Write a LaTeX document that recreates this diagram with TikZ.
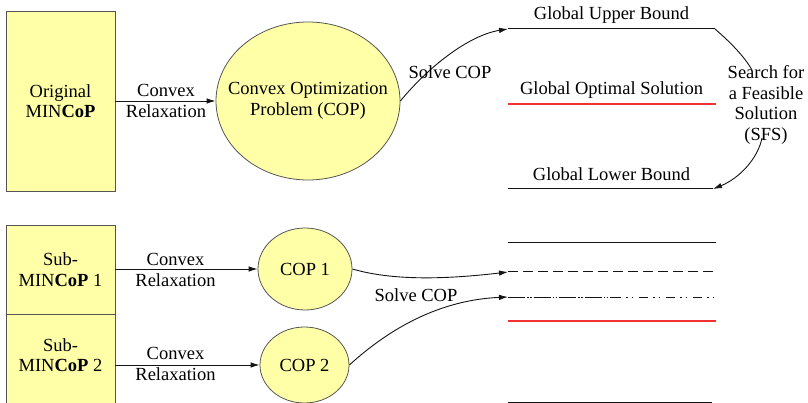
\documentclass[tikz,border=0pt]{standalone}
\usepackage{fontspec}
\setmainfont{Liberation Serif}
\usetikzlibrary{shapes.geometric,arrows.meta}
\definecolor{boxfill}{RGB}{255,255,168}
\definecolor{edge}{RGB}{85,85,85}
\definecolor{ink}{RGB}{20,20,20}
\definecolor{optred}{RGB}{240,50,50}
\begin{document}
\begin{tikzpicture}[x=1pt,y=-1pt,
  every node/.style={font=\fontsize{18.5}{20.5}\selectfont, inner sep=0pt, align=center, text=black},
  probbox/.style={draw=edge, fill=boxfill, line width=0.8pt, minimum width=109pt},
  copshape/.style={ellipse, draw=edge, fill=boxfill, line width=0.8pt},
  link/.style={draw=ink, line width=0.9pt, -{Latex[length=9pt,width=5.5pt]}},
  plainlink/.style={draw=ink, line width=0.9pt},
  bound/.style={draw=ink, line width=1pt},
  optline/.style={draw=optred, line width=1.1pt}]
\useasboundingbox (0,0) rectangle (808,403);
\clip (0,0) rectangle (808,403);

% ---------- whole problem ----------
\node[probbox, minimum height=180pt] (orig) at (60.5,101) {Original\\MIN\textbf{CoP}};
\node[copshape, minimum width=184pt, minimum height=158pt] (cop) at (308,101) {};
\node (copT) at (cop) {Convex Optimization\\Problem (COP)};
\draw[link] (orig) -- (cop);
\node (rel0) at (166,101) {Convex\\Relaxation};

% bounds
\coordinate (ubL) at (508,29);  \coordinate (ubR) at (715,29);
\coordinate (optL) at (508,104); \coordinate (optR) at (716,104);
\coordinate (lbL) at (508,189); \coordinate (lbR) at (713,189);
\draw[bound] (ubL) -- (ubR);
\draw[optline] (optL) -- (optR);
\draw[bound] (lbL) -- (lbR);
\node (ubT) at (611.5,15) {Global Upper Bound};
\node (optT) at (611.5,90) {Global Optimal Solution};
\node (lbT) at (611.5,174) {Global Lower Bound};

\draw[link] (cop.east) .. controls (430,65) and (470,35) .. (ubL);
\node (solve0) at (450,72) {Solve COP};

% search for a feasible solution
\node (sfs) at (766,105) {Search for\\a Feasible\\Solution\\(SFS)};
\coordinate (sfsIn) at (752,70);
\coordinate (sfsOut) at (762,138);
\draw[plainlink] (ubR) .. controls (730,42) and (744,56) .. (sfsIn);
\draw[link] (sfsOut) .. controls (758,158) and (740,178) .. (lbR);

% ---------- sub-problems ----------
\node[probbox, minimum height=89pt] (sub1) at (60.5,269.5) {Sub-\\MIN\textbf{CoP} 1};
\node[probbox, minimum height=106pt, anchor=north] (sub2) at (60.5,314) {};
\node (sub2t) at (60.5,355) {Sub-\\MIN\textbf{CoP} 2};

\node[copshape, minimum width=94pt, minimum height=82pt] (cop1) at (305,269) {};
\node (cop1T) at (cop1) {COP 1};
\node[copshape, minimum width=89pt, minimum height=76pt] (cop2) at (304.5,365) {};
\node (cop2T) at (cop2) {COP 2};

\draw[link] (sub1.east |- cop1) -- (cop1);
\draw[link] (sub2.east |- cop2) -- (cop2);
\node (rel1) at (175.5,270) {Convex\\Relaxation};
\node (rel2) at (175.5,364) {Convex\\Relaxation};

% branch bounds
\coordinate (r1L) at (508,243); \coordinate (r1R) at (716,243);
\coordinate (r2L) at (508,272); \coordinate (r2R) at (716,272);
\coordinate (r3L) at (508,297); \coordinate (r3M) at (612,297); \coordinate (r3R) at (716,297);
\coordinate (r4L) at (508,321); \coordinate (r4R) at (716,321);
\coordinate (r5L) at (508,402); \coordinate (r5R) at (712,402);
\draw[bound] (r1L) -- (r1R);
\draw[bound, dash pattern=on 10pt off 5pt] (r2L) -- (r2R);
\draw[bound, dash pattern=on 17pt off 2pt on 1.5pt off 1.5pt on 1.5pt off 2pt] (r3L) -- (r3M);
\draw[bound, dash pattern=on 9pt off 5pt on 1.5pt off 4pt on 1.5pt off 6pt] (r3M) -- (r3R);
\draw[optline] (r4L) -- (r4R);
\draw[bound] (r5L) -- (r5R);

\draw[link] (cop1.east) .. controls (390,280) and (440,280) .. (r2L);
\draw[link] (cop2.east) .. controls (390,328) and (440,300) .. (r3L);
\node (solve1) at (416,295) {Solve COP};
\end{tikzpicture}
\end{document}
